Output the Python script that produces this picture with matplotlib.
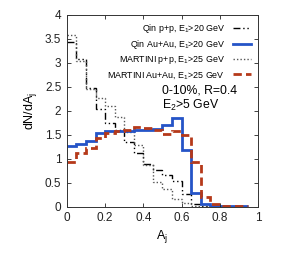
import numpy as np
import matplotlib
matplotlib.use("Agg")
import matplotlib.pyplot as plt

# A_j bin edges (width 0.05)
edges = np.round(np.arange(0, 0.951, 0.05), 2)

qin_pp = [3.43, 3.08, 2.48, 2.04, 1.74, 1.60, 1.35, 1.12, 0.90, 0.77,
          0.66, 0.53, 0.27, 0.05, 0.01, 0.0, 0.0, 0.0, 0.0]
qin_auau = [1.27, 1.31, 1.38, 1.53, 1.57, 1.57, 1.58, 1.60, 1.60, 1.62,
            1.71, 1.84, 1.18, 0.28, 0.05, 0.02, 0.01, 0.01, 0.01]
martini_pp = [3.58, 3.03, 2.46, 2.26, 2.10, 1.87, 1.55, 1.29, 0.86, 0.52,
              0.36, 0.16, 0.07, 0.02, 0.0, 0.0, 0.0, 0.0, 0.0]
martini_auau = [0.94, 1.12, 1.22, 1.43, 1.53, 1.57, 1.60, 1.67, 1.65, 1.60,
                1.52, 1.58, 1.50, 0.93, 0.20, 0.05, 0.02, 0.01, 0.01]

labels = [r"Qin p+p, E$_1$>20 GeV", r"Qin Au+Au, E$_1$>20 GeV",
          r"MARTINI p+p, E$_1$>25 GeV", r"MARTINI Au+Au, E$_1$>25 GeV"]

plt.rcParams["font.family"] = ["Liberation Sans", "DejaVu Sans"]
plt.rcParams["mathtext.fontset"] = "custom"
plt.rcParams["mathtext.rm"] = "Liberation Sans"

fig = plt.figure(figsize=(2.87, 2.58), dpi=100)
ax = fig.add_axes([0.233, 0.199, 0.666, 0.743])

ax.stairs(qin_pp, edges, baseline=None, color="black", lw=1.0,
          ls=(0, (5, 2, 1, 2, 1, 2)), label=labels[0])
ax.stairs(martini_pp, edges, baseline=None, color="#555555", lw=1.0,
          ls=(0, (1, 1.5)), label=labels[2])
ax.stairs(qin_auau, edges, baseline=None, color="#2554c7", lw=2.0,
          label=labels[1])
ax.stairs(martini_auau, edges, baseline=None, color="#b5391a", lw=2.0,
          ls=(0, (3, 1.5)), label=labels[3])

ax.set_xlim(0, 1)
ax.set_ylim(0, 4)
ax.set_xticks([0, 0.2, 0.4, 0.6, 0.8, 1])
ax.set_xticklabels(["0", "0.2", "0.4", "0.6", "0.8", "1"])
ax.set_yticks(np.arange(0, 4.01, 0.5))
ax.set_yticklabels(["0", "0.5", "1", "1.5", "2", "2.5", "3", "3.5", "4"])
ax.tick_params(direction="in", top=True, right=True, labelsize=8.5,
               length=3, width=0.6, pad=4, colors="#222222")
for s in ax.spines.values():
    s.set_linewidth(0.7)
    s.set_color("#333333")

ax.set_xlabel(r"A$_\mathrm{j}$", fontsize=9, labelpad=3)
ax.set_ylabel(r"dN/dA$_\mathrm{j}$", fontsize=9, labelpad=4)

h, l = ax.get_legend_handles_labels()
order = [l.index(x) for x in labels]
ax.legend([h[i] for i in order], [l[i] for i in order], loc="upper right",
          frameon=False, markerfirst=False, fontsize=6.4, handlelength=2.0,
          handletextpad=0.9, labelspacing=0.3, borderaxespad=0.6,
          borderpad=0.2)

ax.text(0.5, 2.42, "0-10%, R=0.4", fontsize=8.8, va="center", ha="left")
ax.text(0.5, 2.12, r"E$_2$>5 GeV", fontsize=8.8, va="center", ha="left")

fig.savefig("out.png", dpi=100)
